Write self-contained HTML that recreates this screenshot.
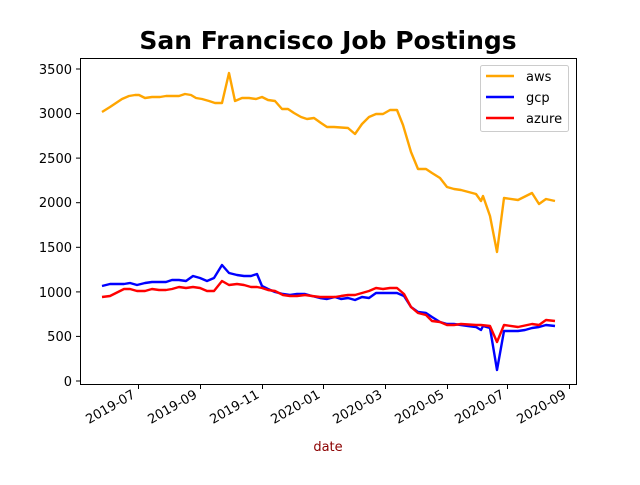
<!DOCTYPE html>
<html><head><style>body{margin:0;background:#fff}</style></head><body>
<svg width="640" height="480" xmlns="http://www.w3.org/2000/svg" font-family="DejaVu Sans, Liberation Sans, sans-serif">
<rect width="640" height="480" fill="#fff"/>
<text x="328" y="49" text-anchor="middle" font-size="25" font-weight="bold">San Francisco Job Postings</text>
<g fill="none" stroke-width="2.4" stroke-linejoin="round">
<polyline stroke="orange" points="102,112 110,107 116,103 122,99 129,96 135,95 139,95 145,98 152,97 160,97 166,96 172,96 179,96 185,94 191,95 196,98 202,99 209,101 215,103 222,103 229,73 235,101 242,98 249,98 256,99 262,97 268,100 275,101 282,109 288,109 294,113 301,117 307,119 314,118 321,123 327,127 334,127 348,128 355,134 362,124 369,117 376,114 383,114 390,110 397,110 403,125 411,152 418,169 426,169 432,173 440,178 447,187 454,189 461,190 476,194 481,201 483,196 490,216 497,252 504,198 518,200 532,193 539,204 546,199 555,201"/>
<polyline stroke="blue" points="102,286 110,284 116,284 124,284 130,283 137,285 145,283 152,282 159,282 166,282 172,280 179,280 186,281 193,276 200,278 207,281 214,278 222,265 229,273 237,275 244,276 251,276 257,274 262,286 268,289 275,292 283,294 290,295 297,294 305,294 312,296 320,298 327,299 335,297 341,299 348,298 355,300 362,297 369,298 376,293 383,293 390,293 397,293 404,296 411,307 418,312 426,313 432,317 440,322 447,324 454,324 461,325 468,326 476,327 481,330 483,326 490,328 497,370 504,331 518,331 525,330 532,328 539,327 546,325 555,326"/>
<polyline stroke="red" points="102,297 110,296 116,293 124,289 130,289 137,291 145,291 152,289 159,290 166,290 172,289 179,287 186,288 193,287 200,288 207,291 214,291 222,281 229,285 237,284 244,285 251,287 257,287 262,288 268,290 275,291 283,295 290,296 297,296 305,295 312,296 320,297 327,297 335,297 341,296 348,295 355,295 362,293 369,291 376,288 383,289 390,288 397,288 404,294 411,307 418,313 426,315 432,321 440,322 447,325 454,325 461,324 476,325 481,325 490,326 497,342 504,325 518,327 532,324 539,325 546,320 555,321"/>
</g>
<rect x="80.5" y="58.5" width="496" height="326" fill="none" stroke="#000" stroke-width="1"/>
<g stroke="#000" stroke-width="1">
<line x1="76" x2="80" y1="381" y2="381"/><line x1="76" x2="80" y1="336.4" y2="336.4"/><line x1="76" x2="80" y1="291.9" y2="291.9"/><line x1="76" x2="80" y1="247.3" y2="247.3"/><line x1="76" x2="80" y1="202.7" y2="202.7"/><line x1="76" x2="80" y1="158.1" y2="158.1"/><line x1="76" x2="80" y1="113.6" y2="113.6"/><line x1="76" x2="80" y1="69" y2="69"/>
<line x1="138.5" x2="138.5" y1="385" y2="389"/><line x1="200.5" x2="200.5" y1="385" y2="389"/><line x1="262.5" x2="262.5" y1="385" y2="389"/><line x1="323.5" x2="323.5" y1="385" y2="389"/><line x1="385.5" x2="385.5" y1="385" y2="389"/><line x1="447.5" x2="447.5" y1="385" y2="389"/><line x1="507.5" x2="507.5" y1="385" y2="389"/><line x1="569.5" x2="569.5" y1="385" y2="389"/>
</g>
<g font-size="13" text-anchor="end">
<text x="72" y="386">0</text><text x="72" y="341">500</text><text x="72" y="297">1000</text><text x="72" y="252">1500</text><text x="72" y="207">2000</text><text x="72" y="163">2500</text><text x="72" y="118">3000</text><text x="72" y="74">3500</text>
</g>
<g font-size="13" text-anchor="end">
<text transform="translate(136,397) rotate(-30)">2019-07</text>
<text transform="translate(198,397) rotate(-30)">2019-09</text>
<text transform="translate(260,397) rotate(-30)">2019-11</text>
<text transform="translate(321,397) rotate(-30)">2020-01</text>
<text transform="translate(383,397) rotate(-30)">2020-03</text>
<text transform="translate(445,397) rotate(-30)">2020-05</text>
<text transform="translate(505,397) rotate(-30)">2020-07</text>
<text transform="translate(567,397) rotate(-30)">2020-09</text>
</g>
<text x="328" y="451" text-anchor="middle" font-size="13" fill="#8b0000">date</text>
<rect x="480.5" y="65.5" width="88" height="66" rx="2" fill="#fff" stroke="#ccc"/>
<g stroke-width="2.4"><line x1="486" x2="514" y1="76" y2="76" stroke="orange"/><line x1="486" x2="514" y1="97" y2="97" stroke="blue"/><line x1="486" x2="514" y1="118" y2="118" stroke="red"/></g>
<g font-size="13"><text x="526" y="81">aws</text><text x="526" y="102">gcp</text><text x="526" y="123">azure</text></g>
</svg>
</body></html>
